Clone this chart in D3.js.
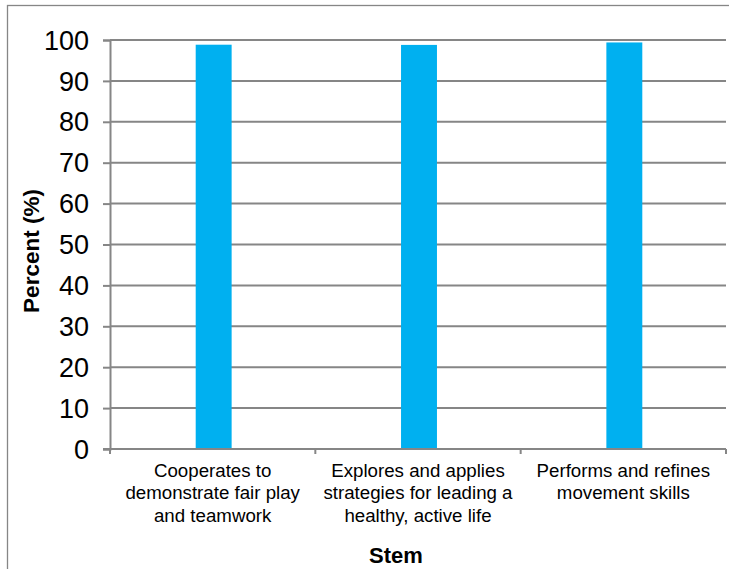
<!DOCTYPE html>
<html>
<head>
<meta charset="utf-8">
<script src="https://cdn.jsdelivr.net/npm/d3@7"></script>
<style>
  html, body { margin: 0; padding: 0; background: #ffffff; }
  svg { display: block; font-family: "Liberation Sans", Arial, sans-serif; }
</style>
</head>
<body>
<svg id="chart" width="729" height="569"></svg>
<script>
// Share of students per stem (percent)
const stems = [
  ["Cooperates to", "demonstrate fair play", "and teamwork"],
  ["Explores and applies", "strategies for leading a", "healthy, active life"],
  ["Performs and refines", "movement skills"]
];
const stemKeys = ["fairPlay", "activeLife", "movementSkills"];
const percentValues = [98.85, 98.8, 99.4];
const yTicks = [0, 10, 20, 30, 40, 50, 60, 70, 80, 90, 100];
const yTitle = "Percent (%)";
const xTitle = "Stem";

const svg = d3.select("#chart");
const gray = "#868686";

const plotLeft = 110, plotRight = 726, plotTop = 40, plotBottom = 449;

// outer frame of the chart area
svg.append("rect")
  .attr("x", 7.5).attr("y", 5.5)
  .attr("width", 760).attr("height", 620)
  .attr("fill", "none").attr("stroke", gray).attr("stroke-width", 1.3);

const y = d3.scaleLinear().domain([0, 100]).range([plotBottom, plotTop]);

const xCat = d3.scaleBand().domain(stemKeys).range([plotLeft, plotRight]).padding(0);
const xBar = d3.scaleBand().domain(stemKeys).range([plotLeft, plotRight])
  .paddingInner(0.825).paddingOuter(0.4125);

// horizontal gridlines
svg.append("g")
  .selectAll("line")
  .data(yTicks.filter(d => d > 0))
  .join("line")
  .attr("x1", plotLeft).attr("x2", plotRight)
  .attr("y1", d => y(d)).attr("y2", d => y(d))
  .attr("stroke", gray).attr("stroke-width", 2);

// bars
svg.append("g")
  .selectAll("rect")
  .data(percentValues)
  .join("rect")
  .attr("x", (d, i) => xBar(stemKeys[i]) + 1)
  .attr("y", d => y(d))
  .attr("width", xBar.bandwidth())
  .attr("height", d => y(0) - y(d))
  .attr("fill", "#00B0F0");

// y axis
const yAxis = d3.axisLeft(y).tickValues(yTicks).tickSize(7).tickPadding(14)
  .tickFormat(d3.format("d"));
const gy = svg.append("g").attr("transform", `translate(${plotLeft},0)`).call(yAxis);
gy.select(".domain").attr("stroke", gray).attr("stroke-width", 2);
gy.selectAll(".tick line").attr("stroke", gray).attr("stroke-width", 2);
gy.selectAll(".tick text")
  .attr("font-size", 27).attr("fill", "#000")
  .attr("font-family", "Liberation Sans, Arial, sans-serif")
  .attr("dy", "0.34em");

// x axis baseline and category boundary ticks
svg.append("line")
  .attr("x1", plotLeft - 7).attr("x2", plotRight)
  .attr("y1", y(0)).attr("y2", y(0))
  .attr("stroke", gray).attr("stroke-width", 2);
const boundaries = stemKeys.map(k => xCat(k)).concat([plotRight]);
svg.append("g")
  .selectAll("line")
  .data(boundaries)
  .join("line")
  .attr("x1", d => d).attr("x2", d => d)
  .attr("y1", y(0)).attr("y2", y(0) + 5)
  .attr("stroke", gray).attr("stroke-width", 2);

// category labels
const labels = svg.append("g");
stems.forEach((lines, i) => {
  const cx = xCat(stemKeys[i]) + xCat.bandwidth() / 2;
  const t = labels.append("text")
    .attr("text-anchor", "middle")
    .attr("font-size", 18.7)
    .attr("fill", "#000");
  lines.forEach((ln, j) => {
    t.append("tspan").attr("x", cx).attr("y", 477 + j * 22.4).text(ln);
  });
});

// axis titles
svg.append("text")
  .attr("transform", "translate(39,251) rotate(-90)")
  .attr("text-anchor", "middle")
  .attr("font-size", 22.5).attr("font-weight", "bold")
  .text(yTitle);

svg.append("text")
  .attr("x", 396).attr("y", 563)
  .attr("text-anchor", "middle")
  .attr("font-size", 22).attr("font-weight", "bold")
  .text(xTitle);
</script>
</body>
</html>
